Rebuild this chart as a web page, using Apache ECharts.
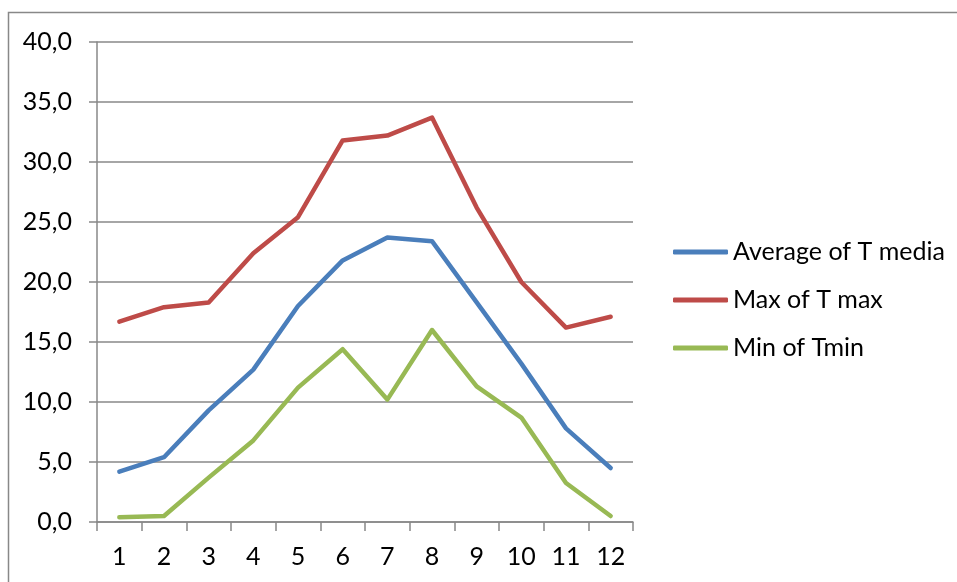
<!DOCTYPE html>
<html><head><meta charset="utf-8">
<script src="https://cdn.jsdelivr.net/npm/echarts@6/dist/echarts.min.js"></script>
<style>html,body{margin:0;padding:0;background:#fff}#c{width:957px;height:582px}</style>
</head><body><div id="c"></div>
<script>
const categories = ['1','2','3','4','5','6','7','8','9','10','11','12'];
const avgMedia = [4.2, 5.4, 9.3, 12.7, 18.0, 21.8, 23.7, 23.4, 18.3, 13.2, 7.8, 4.5];
const maxTmax = [16.7, 17.9, 18.3, 22.4, 25.4, 31.8, 32.2, 33.7, 26.2, 20.0, 16.2, 17.1];
const minTmin = [0.4, 0.5, 3.7, 6.8, 11.2, 14.4, 10.2, 16.0, 11.3, 8.7, 3.25, 0.5];
const seriesNames = ['Average of T media', 'Max of T max', 'Min of Tmin'];
const colors = ['#4A7EBB', '#BE4B48', '#98B954'];

const chart = echarts.init(document.getElementById('c'));
const font = 'Lato, "Open Sans", sans-serif';
const mk = (name, data, color) => ({
  name, type: 'line', data, symbol: 'none', smooth: false,
  lineStyle: { width: 4.5, color, cap: 'round', join: 'round' },
  itemStyle: { color }
});
chart.setOption({
  animation: false,
  textStyle: { fontFamily: font },
  graphic: [{
    type: 'rect', shape: { x: 8.5, y: 12.5, width: 1000, height: 1000 },
    style: { fill: 'none', stroke: '#888', lineWidth: 1.5 }, silent: true
  }],
  grid: { left: 97, top: 42, right: 324, bottom: 60, containLabel: false },
  legend: {
    orient: 'vertical', left: 673, top: 238, padding: 0,
    itemWidth: 55, itemHeight: 5, itemGap: 20,
    icon: 'roundRect',
    textStyle: { fontSize: 25, lineHeight: 28, color: '#000', fontFamily: font },
    data: seriesNames
  },
  xAxis: {
    type: 'category', data: categories, boundaryGap: true,
    axisLine: { lineStyle: { color: '#888', width: 1.5 } },
    axisTick: { show: true, length: 9, interval: 0, lineStyle: { color: '#888', width: 1.5 } },
    axisLabel: { fontSize: 25, color: '#000', margin: 22, fontFamily: font, interval: 0 }
  },
  yAxis: {
    type: 'value', min: 0, max: 40, interval: 5,
    axisLine: { show: true, lineStyle: { color: '#888', width: 1.5 } },
    axisTick: { show: true, length: 8, lineStyle: { color: '#888', width: 1.5 } },
    splitLine: { lineStyle: { color: '#888', width: 1.5 } },
    axisLabel: { fontSize: 25, color: '#000', margin: 25, fontFamily: font,
      formatter: v => v.toFixed(1).replace('.', ',') }
  },
  series: [
    mk(seriesNames[0], avgMedia, colors[0]),
    mk(seriesNames[1], maxTmax, colors[1]),
    mk(seriesNames[2], minTmin, colors[2])
  ]
});
</script></body></html>
